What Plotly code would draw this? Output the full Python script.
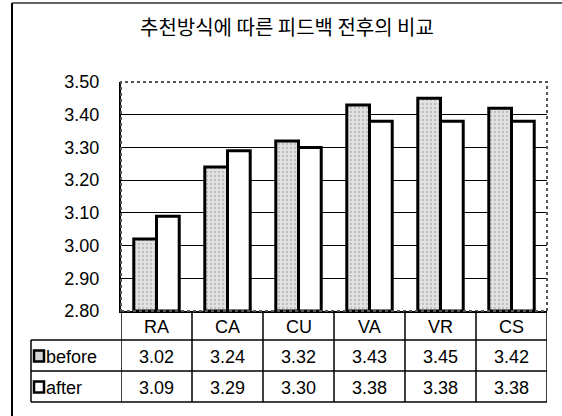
import plotly.graph_objects as go

# ---- data ----
categories = ["RA", "CA", "CU", "VA", "VR", "CS"]
before = [3.02, 3.24, 3.32, 3.43, 3.45, 3.42]
after = [3.09, 3.29, 3.30, 3.38, 3.38, 3.38]
series_names = ["before", "after"]
title_text = "추천방식에 따른 피드백 전후의 비교"
y_min, y_max, y_step = 2.80, 3.50, 0.10

# ---- layout geometry (pixels) ----
W, H = 562, 416
ML, MR, MT, MB = 121, 15, 82, 105
PW, PH = W - ML - MR, H - MT - MB


def px_x(X):
    return (X - ML) / PW


def px_y(Y):
    return (H - MB - Y) / PH


FONT = "Liberation Sans, Arial, sans-serif"
FS = 18

fig = go.Figure()
fig.add_trace(go.Bar(
    x=categories, y=[v - y_min for v in before], base=y_min, name=series_names[0],
    marker=dict(color="#e2e2e2", line=dict(color="black", width=3),
                pattern=dict(shape=".", fgcolor="#9a9a9a", bgcolor="#e2e2e2",
                             size=4, solidity=0.25)),
))
fig.add_trace(go.Bar(
    x=categories, y=[v - y_min for v in after], base=y_min, name=series_names[1],
    marker=dict(color="white", line=dict(color="black", width=3)),
))

shapes = []
ann = []

# plot border (top/right dotted)
shapes.append(dict(type="rect", xref="paper", yref="paper", x0=0, x1=1, y0=0, y1=1,
                   line=dict(color="#555555", width=2, dash="dot"), layer="above"))
# outer chart frame (left and top)
shapes.append(dict(type="line", xref="paper", yref="paper", x0=px_x(12), x1=px_x(12),
                   y0=px_y(3), y1=px_y(H + 5), line=dict(color="black", width=2)))
shapes.append(dict(type="line", xref="paper", yref="paper", x0=px_x(12), x1=px_x(W + 5),
                   y0=px_y(3), y1=px_y(3), line=dict(color="#333333", width=1.5)))

# table rows (pixel y)
row_cat = (311, 340)
row_b = (340, 371)
row_a = (371, 402)
tab_left = 31
LW = 1.5
n = len(categories)
# vertical lines at category boundaries
for i in range(n + 1):
    shapes.append(dict(type="line", xref="x", yref="paper", x0=i - 0.5, x1=i - 0.5,
                       y0=0, y1=px_y(row_a[1]), line=dict(color="black", width=LW)))
# horizontal lines
for Y in (row_b[0], row_a[0], row_a[1]):
    shapes.append(dict(type="line", xref="paper", yref="paper", x0=px_x(tab_left), x1=1,
                       y0=px_y(Y), y1=px_y(Y), line=dict(color="black", width=LW)))
# legend column left line
shapes.append(dict(type="line", xref="paper", yref="paper", x0=px_x(tab_left), x1=px_x(tab_left),
                   y0=px_y(row_b[0]), y1=px_y(row_a[1]), line=dict(color="black", width=LW)))

txt_font = dict(family=FONT, size=FS, color="black")
# table text
for i, c in enumerate(categories):
    ann.append(dict(x=c, xref="x", y=px_y(sum(row_cat) / 2 + 1), yref="paper", text=c,
                    xanchor="center", yanchor="middle", showarrow=False, font=txt_font))
    ann.append(dict(x=c, xref="x", y=px_y(sum(row_b) / 2 + 1), yref="paper", text=f"{before[i]:.2f}",
                    xanchor="center", yanchor="middle", showarrow=False, font=txt_font))
    ann.append(dict(x=c, xref="x", y=px_y(sum(row_a) / 2 + 1), yref="paper", text=f"{after[i]:.2f}",
                    xanchor="center", yanchor="middle", showarrow=False, font=txt_font))

# legend keys in table
for (r, fill, name) in ((row_b, "#d4d4d4", series_names[0]), (row_a, "white", series_names[1])):
    cy = sum(r) / 2
    shapes.append(dict(type="rect", xref="paper", yref="paper", x0=px_x(34), x1=px_x(44),
                       y0=px_y(cy - 5), y1=px_y(cy + 6), fillcolor=fill,
                       line=dict(color="black", width=2.5)))
    ann.append(dict(x=px_x(44), xref="paper", y=px_y(cy + 1), yref="paper", text=name,
                    xanchor="left", yanchor="middle", showarrow=False, font=txt_font))

# title
ann.append(dict(x=px_x(287), xref="paper", y=px_y(26), yref="paper", text=title_text,
                xanchor="center", yanchor="middle", showarrow=False,
                font=dict(family="Noto Sans CJK KR", size=20, color="black")))

fig.update_layout(
    width=W, height=H,
    margin=dict(l=ML, r=MR, t=MT, b=MB),
    paper_bgcolor="white", plot_bgcolor="white",
    barmode="group", bargap=0.36, bargroupgap=0,
    showlegend=False,
    shapes=shapes, annotations=ann,
    xaxis=dict(range=[-0.5, n - 0.5], showticklabels=False, ticks="", showgrid=False,
               showline=True, linecolor="black", linewidth=2, zeroline=False),
    yaxis=dict(range=[y_min, y_max], dtick=y_step, tick0=y_min, tickformat=".2f",
               showgrid=True, gridcolor="black", gridwidth=1, zeroline=False,
               showline=True, linecolor="black", linewidth=2, ticks="",
               ticklabelstandoff=16,
               tickfont=dict(family=FONT, size=FS, color="black")),
)

fig.write_html("out.html")
